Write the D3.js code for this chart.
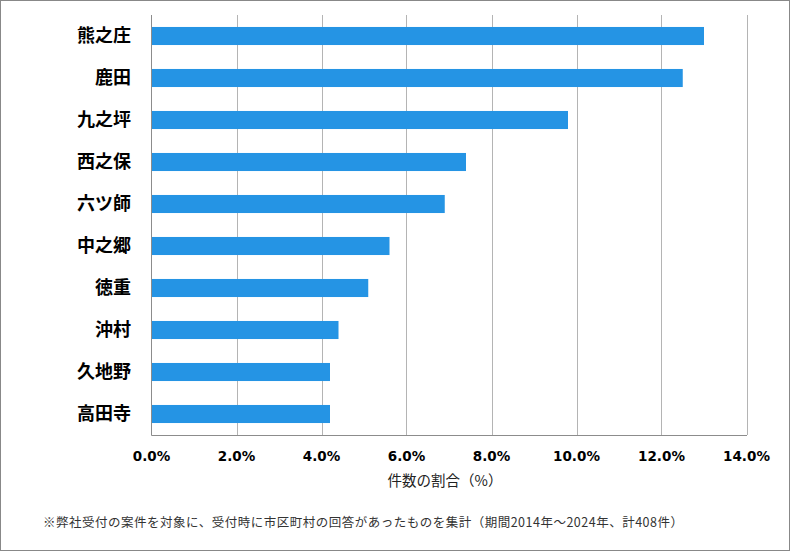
<!DOCTYPE html>
<html><head><meta charset="utf-8">
<script src="https://cdn.jsdelivr.net/npm/d3@7"></script>
<style>body{margin:0;background:#fff}svg{display:block}</style>
</head><body><svg id="c" width="790" height="551"></svg>
<script>
const categories = ["熊之庄","鹿田","九之坪","西之保","六ツ師","中之郷","徳重","沖村","久地野","高田寺"];
const values = [13.0,12.5,9.8,7.4,6.9,5.6,5.1,4.4,4.2,4.2];
const ticks = [0,2,4,6,8,10,12,14];
const xTitle = "件数の割合（%）";
const note = "※弊社受付の案件を対象に、受付時に市区町村の回答があったものを集計（期間2014年～2024年、計408件）";

const svg = d3.select("#c");
svg.append("rect").attr("x",0.5).attr("y",0.5).attr("width",789).attr("height",550)
  .attr("fill","#fff").attr("stroke","#888");
const L=151.5, R=746.5, T=15, B=435;
const x = d3.scaleLinear().domain([0,14]).range([L,R]);
const y = d3.scaleBand().domain(categories).range([T,B]).paddingInner(0.57).paddingOuter(0.285);

svg.append("g").selectAll("line").data(ticks.slice(1)).join("line")
  .attr("x1",d=>Math.round(x(d))+0.5).attr("x2",d=>Math.round(x(d))+0.5)
  .attr("y1",T).attr("y2",B).attr("stroke","#b4b4b4").attr("stroke-width",1);

svg.append("g").selectAll("rect").data(values).join("rect")
  .attr("x",L).attr("y",(d,i)=>y(categories[i]))
  .attr("width",d=>x(d)-L).attr("height",y.bandwidth()).attr("fill","#2594e4");

svg.append("line").attr("x1",L).attr("x2",L).attr("y1",T).attr("y2",B+0.5).attr("stroke","#8c8c8c");
svg.append("line").attr("x1",L).attr("x2",R+0.5).attr("y1",B+0.5).attr("y2",B+0.5).attr("stroke","#8c8c8c");

svg.append("g").selectAll("text").data(categories).join("text")
  .attr("x",131).attr("y",d=>y(d)+y.bandwidth()/2).attr("dy","0.34em")
  .attr("text-anchor","end").attr("font-family","'Noto Sans CJK JP'").attr("font-weight","bold")
  .attr("font-size",18).attr("fill","#000").text(d=>d);

svg.append("g").selectAll("text").data(ticks).join("text")
  .attr("x",d=>x(d)).attr("y",461).attr("text-anchor","middle")
  .attr("font-family","'DejaVu Sans'").attr("font-weight","bold").attr("font-size",13.5)
  .attr("fill","#000").text(d=>d.toFixed(1)+"%");

svg.append("text").attr("x",445).attr("y",486).attr("text-anchor","middle")
  .attr("font-family","'Noto Sans CJK JP'").attr("font-size",14.5).attr("fill","#222").text(xTitle);

svg.append("text").attr("x",43).attr("y",527)
  .attr("font-family","'Noto Sans CJK JP'").attr("font-size",12.5).attr("fill","#333")
  .attr("textLength",640).attr("lengthAdjust","spacing").text(note);
</script></body></html>
